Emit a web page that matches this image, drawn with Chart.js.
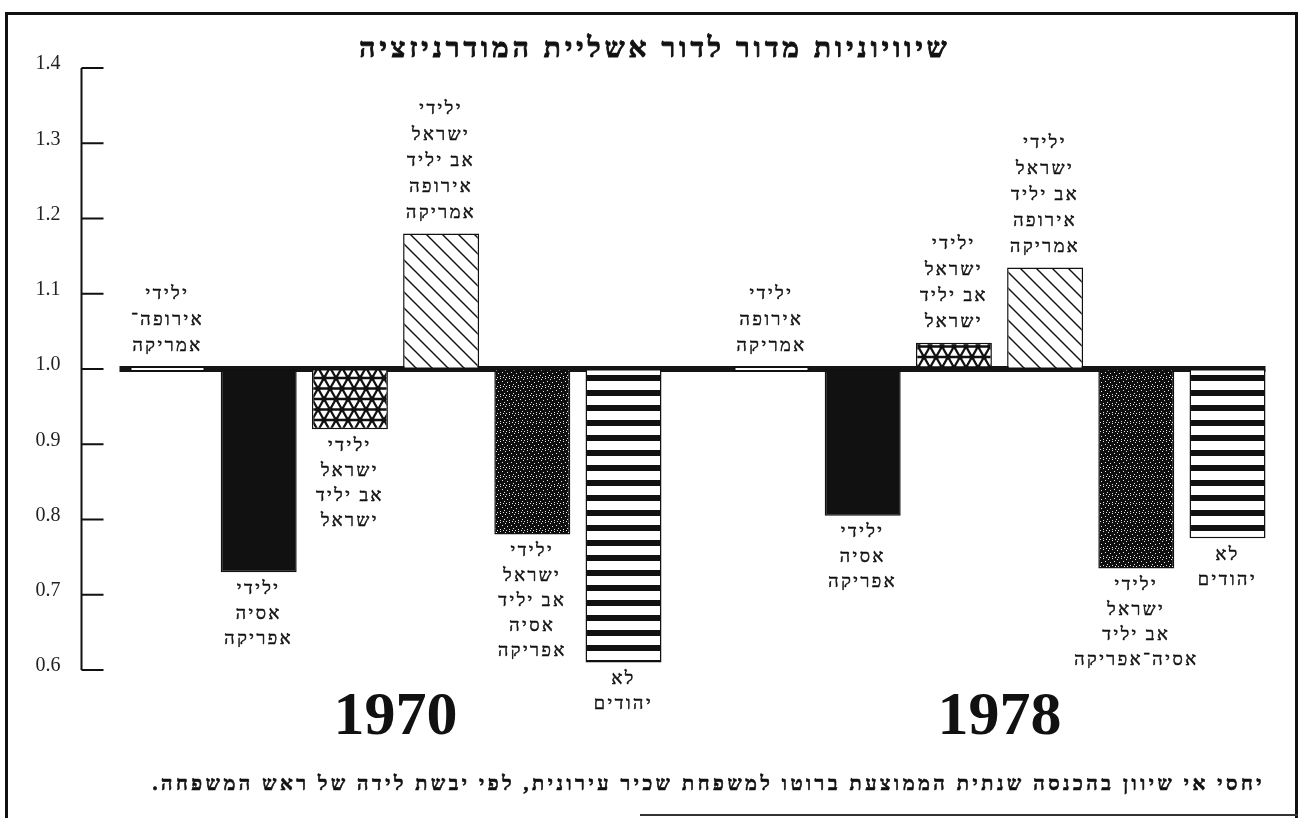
<!DOCTYPE html>
<html lang="he">
<head>
<meta charset="utf-8">
<title>שיוויוניות מדור לדור</title>
<script src="https://cdn.jsdelivr.net/npm/chart.js@4.4.1/dist/chart.umd.min.js"></script>
<style>
    html, body { margin: 0; padding: 0; background: #fff; }
    #cadre { position: relative; width: 1306px; height: 818px; overflow: hidden; }
    #bordure { position: absolute; left: 5px; top: 12px; width: 1293px; height: 820px; border: 3px solid #111; border-bottom: none; box-sizing: border-box; }
    #bas { position: absolute; left: 640px; top: 814px; width: 658px; height: 2px; background: #333; }
    canvas { position: absolute; left: 0; top: 0; }
</style>
</head>
<body>
<div id="cadre">
    <div id="bordure"></div>
    <div id="bas"></div>
    <canvas id="myChart" width="1306" height="818"></canvas>
</div>
<script>
//Données (rapport à 1.0 = ילידי אירופה-אמריקה)
let annees = ["1970", "1978"];
let europeAmerique = [1.0, 1.0];
let asieAfrique = [0.73, 0.805];
let israelIsrael = [0.92, 1.035];
let israelEurope = [1.18, 1.135];
let israelAsie = [0.78, 0.735];
let nonJuifs = [0.61, 0.775];
let graduations = [0.6, 0.7, 0.8, 0.9, 1.0, 1.1, 1.2, 1.3, 1.4];

//Textes des barres (une liste de lignes par année)
let texteEuropeAmerique = [["ילידי", "אירופה־", "אמריקה"], ["ילידי", "אירופה", "אמריקה"]];
let texteAsieAfrique = [["ילידי", "אסיה", "אפריקה"], ["ילידי", "אסיה", "אפריקה"]];
let texteIsraelIsrael = [["ילידי", "ישראל", "אב יליד", "ישראל"], ["ילידי", "ישראל", "אב יליד", "ישראל"]];
let texteIsraelEurope = [["ילידי", "ישראל", "אב יליד", "אירופה", "אמריקה"], ["ילידי", "ישראל", "אב יליד", "אירופה", "אמריקה"]];
let texteIsraelAsie = [["ילידי", "ישראל", "אב יליד", "אסיה", "אפריקה"], ["ילידי", "ישראל", "אב יליד", "אסיה־אפריקה"]];
let texteNonJuifs = [["לא", "יהודים"], ["לא", "יהודים"]];

let titre = "שיוויוניות מדור לדור אשליית המודרניזציה";
let legende = "יחסי אי שיוון בהכנסה שנתית הממוצעת ברוטו למשפחת שכיר עירונית, לפי יבשת לידה של ראש המשפחה.";

let police = "Liberation Serif";
let ctx = document.getElementById('myChart').getContext('2d');

//Créer un motif de remplissage à partir d'un petit canvas
function motif(w, h, dessin) {
    let c = document.createElement('canvas');
    c.width = w;
    c.height = h;
    dessin(c.getContext('2d'), w, h);
    return ctx.createPattern(c, 'repeat');
}

//Treillis triangulaire (étoiles blanches)
let motifEtoile = motif(24, 21, function (g, w, h) {
    g.fillStyle = '#fff';
    g.fillRect(0, 0, w, h);
    g.strokeStyle = '#111';
    g.lineWidth = 2.3;
    g.beginPath();
    g.moveTo(0, 0); g.lineTo(w, 0);
    g.moveTo(0, h / 2); g.lineTo(w, h / 2);
    g.moveTo(0, h); g.lineTo(w, h);
    for (let k = -48; k <= 48; k += 12) {
        g.moveTo(k, 0); g.lineTo(k + 12, h);
        g.moveTo(k, 0); g.lineTo(k - 12, h);
    }
    g.stroke();
    //Noeuds du treillis un peu plus gras
    g.fillStyle = '#111';
    [[0, 0], [12, 0], [24, 0], [6, 10.5], [18, 10.5], [0, 21], [12, 21], [24, 21]].forEach(function (p) {
        g.beginPath();
        g.arc(p[0], p[1], 2.6, 0, Math.PI * 2);
        g.fill();
    });
});

//Hachures diagonales
let motifHachure = motif(16, 16, function (g, w, h) {
    g.fillStyle = '#fff';
    g.fillRect(0, 0, w, h);
    g.strokeStyle = '#111';
    g.lineWidth = 1.4;
    g.beginPath();
    for (let k = -16; k <= 16; k += 16) {
        g.moveTo(k - 2, -2);
        g.lineTo(k + 18, 18);
    }
    g.stroke();
});

//Pointillé sombre
let motifPoint = motif(9, 9, function (g, w, h) {
    g.fillStyle = '#0e0e0e';
    g.fillRect(0, 0, w, h);
    g.fillStyle = '#e8e8e8';
    [[1, 1], [5, 0], [3, 4], [7, 3], [0, 6], [5, 7], [8, 8], [2, 8]].forEach(function (p) {
        g.fillRect(p[0], p[1], 1, 1);
    });
});

//Rayures horizontales
let motifRayure = motif(8, 15, function (g, w, h) {
    g.fillStyle = '#fff';
    g.fillRect(0, 0, w, h);
    g.fillStyle = '#111';
    g.fillRect(0, 0, w, 6);
});

//Ligne de base à 1.0
const ligneBase = {
    id: 'ligneBase',
    beforeDatasetsDraw(chart) {
        let c = chart.ctx;
        let x0 = Infinity, x1 = -Infinity;
        chart.getSortedVisibleDatasetMetas().forEach(function (meta) {
            meta.data.forEach(function (bar) {
                x0 = Math.min(x0, bar.x - bar.width / 2);
                x1 = Math.max(x1, bar.x + bar.width / 2);
            });
        });
        let y = chart.scales.y.getPixelForValue(1);
        c.save();
        c.fillStyle = '#151515';
        c.fillRect(x0 - 10, y - 3, x1 - x0 + 10, 6);
        c.restore();
    }
};

//Axe vertical avec graduations vers l'intérieur
const axeY = {
    id: 'axeY',
    afterDraw(chart) {
        let c = chart.ctx;
        let sy = chart.scales.y;
        let xa = chart.chartArea.left - 12;
        c.save();
        c.strokeStyle = '#111';
        c.lineWidth = 2;
        c.beginPath();
        c.moveTo(xa, sy.getPixelForValue(sy.max));
        c.lineTo(xa, sy.getPixelForValue(sy.min));
        sy.ticks.forEach(function (t) {
            let py = sy.getPixelForValue(t.value);
            c.moveTo(xa, py);
            c.lineTo(xa + 22, py);
        });
        c.stroke();
        c.restore();
    }
};

//Écrire un texte un peu gras (trait + remplissage)
function texteGras(c, t, x, y, epaisseur) {
    c.lineWidth = epaisseur;
    c.strokeText(t, x, y);
    c.fillText(t, x, y);
}

//Titre, légende du bas et textes des barres
const textes = {
    id: 'textes',
    afterDatasetsDraw(chart) {
        let c = chart.ctx;
        c.save();
        c.fillStyle = '#111';
        c.strokeStyle = '#111';
        c.direction = 'rtl';
        c.textBaseline = 'middle';

        c.font = 'bold 28px "' + police + '"';
        c.letterSpacing = '4px';
        c.textAlign = 'center';
        texteGras(c, titre, 655, 50, 0.9);

        c.font = 'bold 20px "' + police + '"';
        c.letterSpacing = '3.5px';
        c.textAlign = 'right';
        texteGras(c, legende, 1265, 785, 0.6);

        c.font = '18px "' + police + '"';
        c.letterSpacing = '2.5px';
        c.textAlign = 'center';
        chart.data.datasets.forEach(function (ds, i) {
            chart.getDatasetMeta(i).data.forEach(function (bar, j) {
                let lignes = ds.textes[j];
                if (ds.data[j] >= 1) {
                    let yb = Math.min(bar.y, bar.base) - 20;
                    lignes.forEach(function (l, k) {
                        texteGras(c, l, bar.x, yb - (lignes.length - 1 - k) * 26, 0.5);
                    });
                } else {
                    let yh = Math.max(bar.y, bar.base) + 17;
                    lignes.forEach(function (l, k) {
                        texteGras(c, l, bar.x, yh + k * 25, 0.5);
                    });
                }
            });
        });
        c.restore();
    }
};

let series = [
    {label: 'ילידי אירופה-אמריקה', data: europeAmerique, backgroundColor: '#fff', textes: texteEuropeAmerique, minBarLength: 6, borderWidth: 2},
    {label: 'ילידי אסיה-אפריקה', data: asieAfrique, backgroundColor: '#111', textes: texteAsieAfrique},
    {label: 'ילידי ישראל אב יליד ישראל', data: israelIsrael, backgroundColor: motifEtoile, textes: texteIsraelIsrael},
    {label: 'ילידי ישראל אב יליד אירופה-אמריקה', data: israelEurope, backgroundColor: motifHachure, textes: texteIsraelEurope},
    {label: 'ילידי ישראל אב יליד אסיה-אפריקה', data: israelAsie, backgroundColor: motifPoint, textes: texteIsraelAsie},
    {label: 'לא יהודים', data: nonJuifs, backgroundColor: motifRayure, textes: texteNonJuifs}
];

series.forEach(function (s) {
    s.base = 1;
    s.borderColor = '#111';
    if (!s.borderWidth) s.borderWidth = 1.5;
    s.borderSkipped = false;
    s.barPercentage = 0.833;
    s.categoryPercentage = 0.906;
});

new Chart(ctx, {
    type: 'bar',
    data: {
        labels: annees,
        datasets: series
    },
    plugins: [ligneBase, axeY, textes],
    options: {
        responsive: false,
        animation: false,
        layout: {padding: {top: 68, right: 4.5, left: 0, bottom: 0}},
        plugins: {
            legend: {display: false},
            title: {display: false},
            tooltip: {enabled: false}
        },
        scales: {
            x: {
                afterFit: function (s) { s.height = 148; },
                grid: {display: false, drawTicks: false},
                border: {display: false},
                ticks: {
                    padding: 11,
                    maxRotation: 0,
                    color: '#111',
                    font: {family: police, size: 62, weight: 'bold'}
                }
            },
            y: {
                min: 0.6,
                max: 1.4,
                afterBuildTicks: function (s) {
                    s.ticks = graduations.map(function (v) { return {value: v}; });
                },
                afterFit: function (s) { s.width = 93.5; },
                grid: {display: false, drawTicks: false},
                border: {display: false},
                ticks: {
                    padding: 33,
                    labelOffset: -4,
                    color: '#222',
                    font: {family: police, size: 20},
                    callback: function (v) { return Number(v).toFixed(1); }
                }
            }
        }
    }
});
</script>
</body>
</html>
